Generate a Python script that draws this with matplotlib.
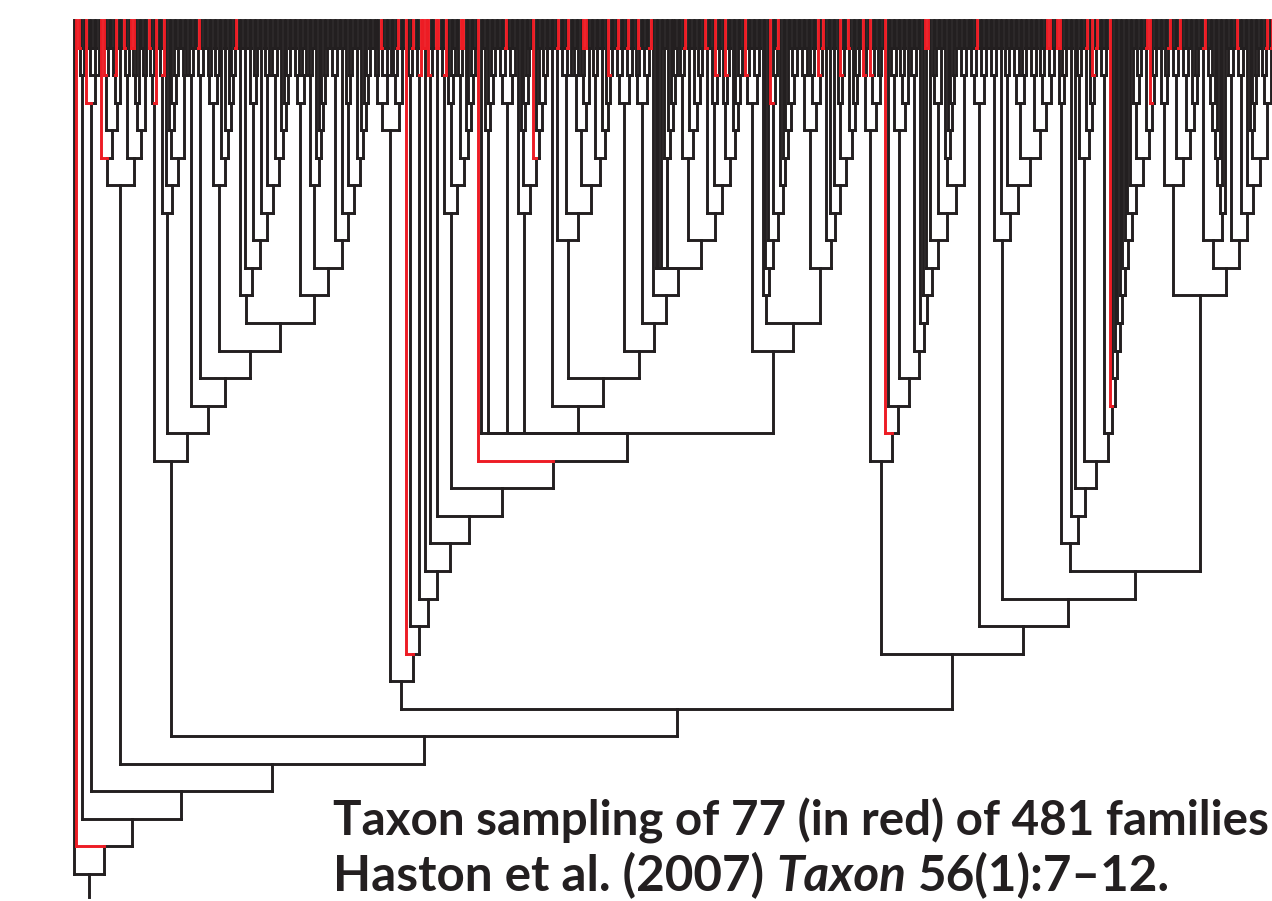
import matplotlib
matplotlib.use("Agg")
import matplotlib.pyplot as plt
from matplotlib.collections import LineCollection
from matplotlib import font_manager

W, H = 1272, 901
BLACK = "#231f20"
RED = "#ed1c24"
LW = 2.1

# ---------------------------------------------------------------------------
# Topology read off the picture. 'o' = family, 'r' = sampled family (red),
# brackets = clades. Node heights are not stored: as in the figure, a node
# sits one step above its tallest child.
# ---------------------------------------------------------------------------

# early-diverging grade
C83 = "((ro)o)"
C91 = "(r((oo)(oo)o))"
N117 = "((r((r(oo))(((oo)r)(oo))))(((ro)o)((((rr)o)o)((oo)o))))"

# clade over x ~150-380
P153 = "(((ro)o)r)"
Q166 = "(((oo)r)(o((o(o(o(oo))))((oo)o))))"
R191 = "(o(oo))"
R200 = "((or)(oo))"
R219 = "((((oo)o)((oo)o))(o((oo)(o(o(or))))))"
X277 = "(((oo)(oo))(o(o(o(oo)))))"
N247 = f"((oo)((oo)(((oo)(o(oo)))(o(((oo)o){X277})))))"
X303 = "(((oo)o)((oo)o))"
N316 = "((o(oo))(o(o(o(o(oo))))))"
N357 = "((o(o(oo)))((oo)(o(o(o(oo))))))"
N317 = f"({X303}({N316}(((oo)(oo))((oo){N357}))))"
N170 = f"({P153}({Q166}({R191}({R200}({R219}({N247}{N317}))))))"

# clade over x ~380-860
T391 = "((((oo)o)((ro)(oo)o))((o(or))(oo)))"
T412 = "(o(or))"
T419 = "((oo)r)"
T425 = "(rr)"
T432 = "(r(oo))"
T437 = "(rr)"
U452 = "(((oo)r)((o(o(oo)))((o(rr))(o(o(o(oo)))))))"
V490 = "((oo)(o(o(oo))))"
V507 = "(((oo)(or))((oo)(oo)))"
V523 = "(o((o(o(o(oo))))(r(o((oo)(o(oo)))))))"
X602 = "((((oo)o)((o(rr))(oo)))((o(oo))((oo)(o(r(oo))))))"
N573 = f"((or)(((oo)(or)o){X602}))"
X631 = "(((or)(oo))((or)(oo)))"
X643 = "((o(ro))((oo)(or)))"
X672 = "((oo)(o(o(o(oo)))))"
Y692 = "((o(or))((oo)((oo)(o(oo)))))"
Y723 = "((ro)(((oo)(r(oo)))((o(r(oo)))(o(o(o(oo)))))))"
N582 = f"((oo)({N573}({X631}({X643}(o(ooo{X672}({Y692}{Y723})))))))"
X759 = "((r(oo))((oo)(oo)))"
COMB_IN = "(o(o(o(o((oo)(oo))))))"
N770 = f"(o(o(o((r(o(or))){COMB_IN}))))"
X812 = "(((oo)(oo))((o(oo))(r(or))))"
N839_IN = "((o(r(oo)))((ro)(o(o(oo)))))"
N839 = f"((oo)(o((oo){N839_IN})))"
N778 = f"({X759}({N770}({X812}{N839})))"
N631 = f"(o{V490}{V507}{V523}{N582}{N778})"
N402 = f"({T391}(r({T412}({T419}({T425}({T432}({T437}({U452}(r{N631})))))))))"

# clade over x ~860-1272
X871 = "((r(oo))((r(oo))(o(oo))))"
X901 = "(((oo)(oo))((o(oo))o))"
X937 = "((o(oo))(oo))"
N956 = "((o(o(o(o(oo)))))((oo)(oo)))"
N882 = f"({X871}(r(o({X901}(((oo)(oo))(o(o((rr)(o({X937}{N956}))))))))))"
X980 = "(((oo)(or))((oo)(oo)))"
F1040 = "((((oo)(oo))(o(oo)))(((oo)(oo))((o(oo))((rr)(oo)))))"
X1004 = f"(((oo)(oo))((oo)((o(oo)){F1040})))"
X1062 = "((rr)(o(oo)))"
X1087 = "((o(oo))((or)(o(r(or)))))"
L5TOP = "(((oo)(o(oo)))((or)(r(o(oo)))))"
SPIKE = f"(r(o(o(o(o(o(o(o(o{L5TOP})))))))))"
N1175 = "(((oo)(o(or)))(((oo)(or))(((oo)(oo))(o(o(oo))))))"
X1214 = "((or)(((((((oo)o)o)o)o)o)o))"
X1243_C = "((o(o(o(oo))))((o(or))(or)))"
X1243 = f"(((oo)(oo))(((ro)(oo))(o{X1243_C})))"
N1202 = f"({N1175}({X1214}{X1243}))"
N1110 = f"(((oo)(oo)){SPIKE})"
N1087 = f"(o({X1087}{N1110}))"
N1070b = f"({X1062}((oo){N1087}))"
N1024 = f"({X980}({X1004}({N1070b}{N1202})))"
N954 = f"({N882}{N1024})"

TREE = f"(o(r({C83}({C91}({N117}({N170}({N402}{N954})))))))"

CAPTION_1 = "Taxon sampling of 77 (in red) of 481 families"
CAPTION_2 = [("Haston et al. (2007)", "normal"), ("Taxon", "italic"),
             ("56(1):7\u201312.", "normal")]


def parse(s):
    stack, root, n = [], None, 0
    for ch in s:
        if ch == "(":
            node = {"kids": [], "red": False}
            if stack:
                stack[-1]["kids"].append(node)
            stack.append(node)
        elif ch == ")":
            node = stack.pop()
            if not stack:
                root = node
        elif ch in "or":
            stack[-1]["kids"].append({"kids": [], "red": ch == "r", "i": n})
            n += 1
    return root, n


def layout(node):
    if not node["kids"]:
        node["x"], node["lv"] = node["i"], 0
        return
    for k in node["kids"]:
        layout(k)
    node["x"] = (node["kids"][0]["x"] + node["kids"][-1]["x"]) / 2
    node["lv"] = max(k["lv"] for k in node["kids"]) + 1


def collect(node, black, red):
    for k in node["kids"]:
        segs = red if k["red"] else black
        segs.append([(k["x"], k["lv"]), (k["x"], node["lv"])])
        segs.append([(k["x"], node["lv"]), (node["x"], node["lv"])])
        collect(k, black, red)


root, n_leaves = parse(TREE)
layout(root)
black, red = [], []
collect(root, black, red)
black.append([(root["x"], root["lv"]), (root["x"], root["lv"] + 0.85)])

fig = plt.figure(figsize=(W / 100, H / 100), dpi=100, facecolor="white")
ax = fig.add_axes([0, 0, 1, 1])
ax.axis("off")

# leaf 0 at x=74 px, last leaf at 1272 px; leaf tops at y=20 px, 27.55 px per step
sx = 1198 / (n_leaves - 1)
sy = 27.55
x0 = -74 / sx
ax.set_xlim(x0, x0 + W / sx)
y0 = -20 / sy
ax.set_ylim(y0 + H / sy, y0)

ax.add_collection(LineCollection(black, colors=BLACK, linewidths=LW,
                                 capstyle="projecting"))
ax.add_collection(LineCollection(red, colors=RED, linewidths=LW,
                                 capstyle="projecting"))

# caption
names = {f.name for f in font_manager.fontManager.ttflist}
FAMILY = "Lato" if "Lato" in names else "Liberation Sans"
renderer = fig.canvas.get_renderer()
size = 33
t1 = fig.text(333 / W, 1 - 835 / H, CAPTION_1, fontsize=size, fontweight="bold",
              family=FAMILY, color=BLACK, va="baseline")
size = size * 935 / t1.get_window_extent(renderer).width
t1.set_fontsize(size)


def place_line2(fsize):
    gap = 0.24 * fsize * 100 / 72
    xpx, items = 333, []
    for txt, style in CAPTION_2:
        t = fig.text(xpx / W, 1 - 891 / H, txt, fontsize=fsize, fontweight="bold",
                     style=style, family=FAMILY, color=BLACK, va="baseline")
        items.append(t)
        xpx = t.get_window_extent(renderer).x1 + gap
    return items, xpx - gap - 333


items, width2 = place_line2(size)
for t in items:
    t.remove()
place_line2(size * 837 / width2)

fig.savefig("out.png", dpi=100, facecolor="white")
